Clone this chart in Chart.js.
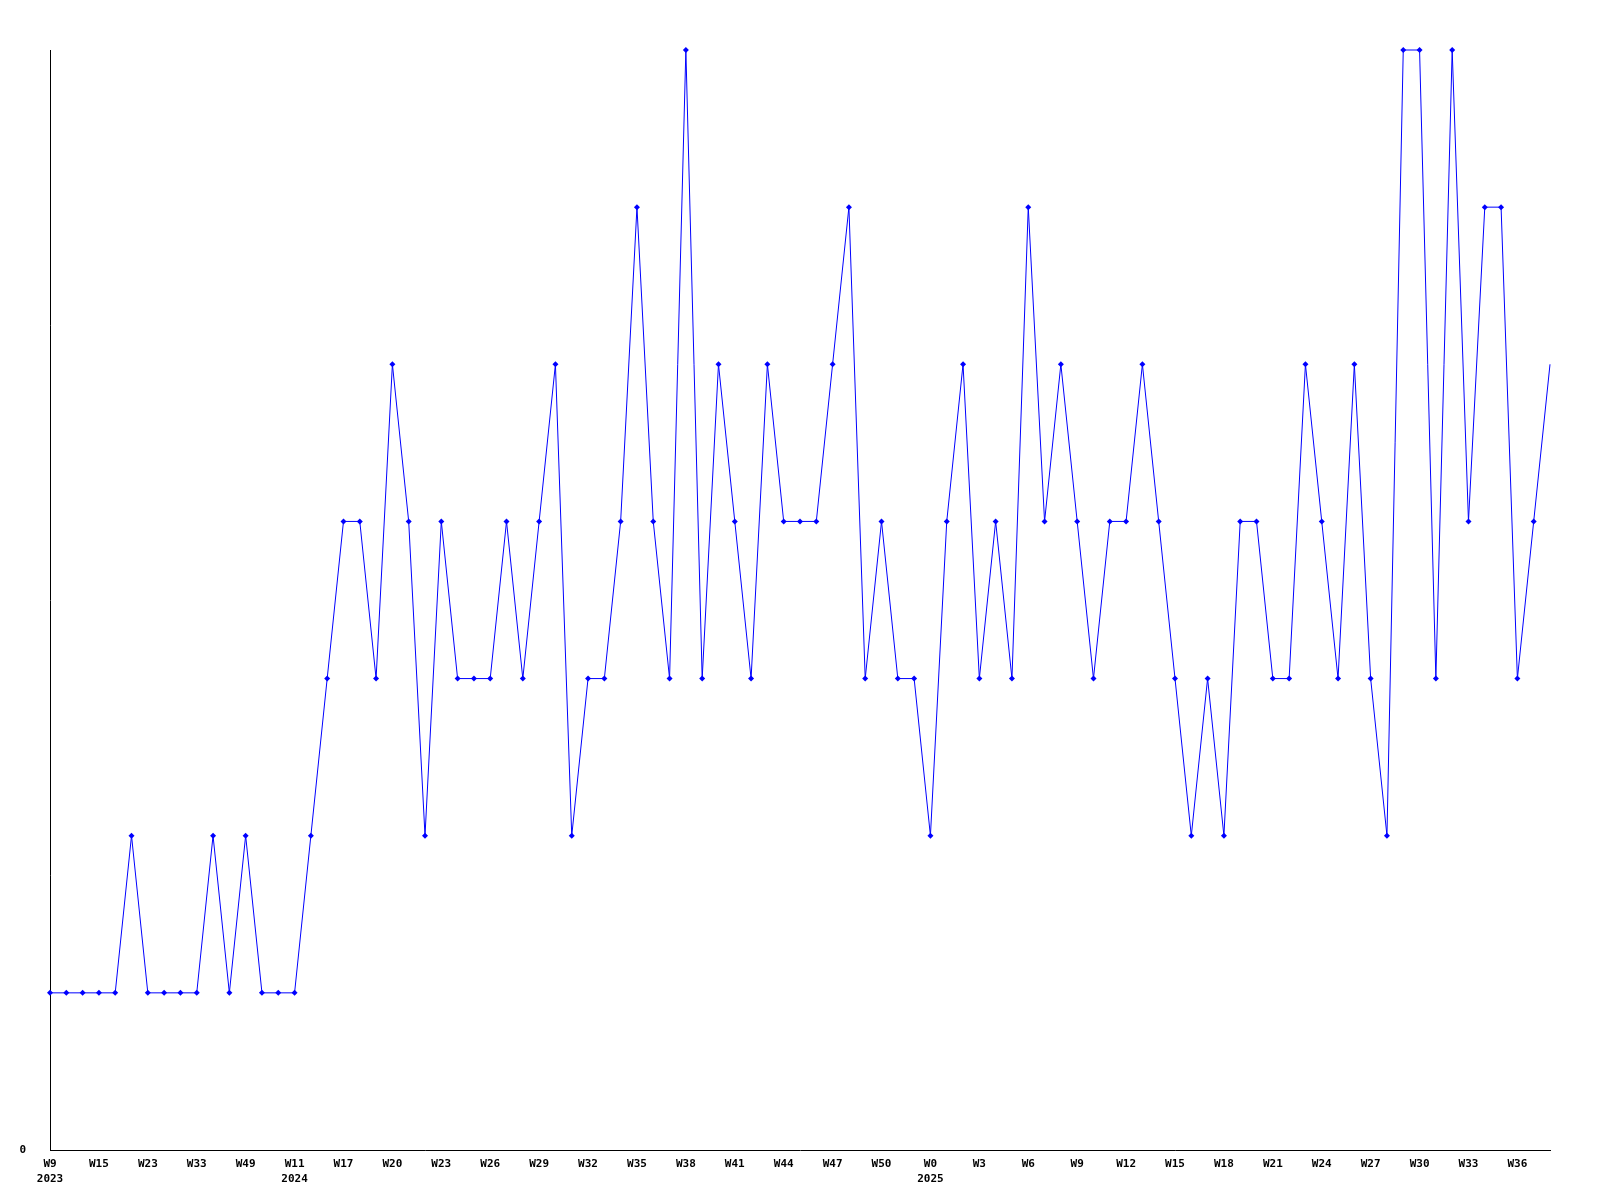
<!DOCTYPE html>
<html>
<head>
<meta charset="utf-8">
<script src="https://cdn.jsdelivr.net/npm/chart.js@4/dist/chart.umd.min.js"></script>
<style>
  html, body { margin: 0; padding: 0; background: #fff; }
  #caixa { width: 1600px; height: 1200px; }
</style>
</head>
<body>
<div id="caixa"><canvas id="cvs_grafico"></canvas></div>
<script>
// rótulos do eixo x (um a cada 3 semanas)
var semanasTick = [
  "W9", "W15", "W23", "W33", "W49", "W11", "W17", "W20", "W23", "W26", "W29",
  "W32", "W35", "W38", "W41", "W44", "W47", "W50", "W0", "W3", "W6", "W9",
  "W12", "W15", "W18", "W21", "W24", "W27", "W30", "W33", "W36",
];
var anosTick = [
  "2023", "", "", "", "", "2024", "", "", "", "", "",
  "", "", "", "", "", "", "", "2025", "", "", "",
  "", "", "", "", "", "", "", "", "",
];

// valores semanais
var valores = [
  1, 1, 1, 1, 1, 2, 1, 1, 1, 1,
  2, 1, 2, 1, 1, 1, 2, 3, 4, 4,
  3, 5, 4, 2, 4, 3, 3, 3, 4, 3,
  4, 5, 2, 3, 3, 4, 6, 4, 3, 7,
  3, 5, 4, 3, 5, 4, 4, 4, 5, 6,
  3, 4, 3, 3, 2, 4, 5, 3, 4, 3,
  6, 4, 5, 4, 3, 4, 4, 5, 4, 3,
  2, 3, 2, 4, 4, 3, 3, 5, 4, 3,
  5, 3, 2, 7, 7, 3, 7, 4, 6, 6,
  3, 4, 5,
];

var passoTick = 3;

const grafico = document.getElementById("cvs_grafico");
const fonteEixo = { family: "'DejaVu Sans Mono', monospace", size: 11, weight: "bold", lineHeight: 1.4 };

function montarRotulos() {
  var rotulos = [];
  valores.forEach((v, i) => {
    if (i % passoTick === 0 && semanasTick[i / passoTick] !== undefined) {
      rotulos.push([semanasTick[i / passoTick], anosTick[i / passoTick]]);
    } else {
      rotulos.push("");
    }
  });
  return rotulos;
}

function criarGrafico() {
  var ultimo = valores.length - 1;
  new Chart(grafico, {
    type: "line",
    data: {
      labels: montarRotulos(),
      datasets: [
        {
          data: valores,
          borderColor: "#0000ff",
          borderWidth: 1,
          backgroundColor: "#0000ff",
          pointStyle: "rectRot",
          pointBorderWidth: 0,
          pointRadius: (ctx) => (ctx.dataIndex === ultimo ? 0 : 3), // último ponto sem marcador
          tension: 0,
          clip: false,
        },
      ],
    },
    options: {
      responsive: true,
      maintainAspectRatio: false,
      animation: false,
      layout: { padding: { top: 50, right: 50, left: 0, bottom: 0 } },
      plugins: {
        legend: { display: false },
        tooltip: { enabled: false },
      },
      scales: {
        x: {
          type: "category",
          offset: false,
          grid: { display: false, drawTicks: false },
          border: { display: true, color: "#000", width: 1 },
          ticks: {
            autoSkip: false,
            maxRotation: 0,
            minRotation: 0,
            padding: 6,
            color: "#000",
            font: fonteEixo,
          },
          afterFit: (escala) => { escala.height = 50; },
        },
        y: {
          min: 0,
          max: 7,
          grid: { display: false, drawTicks: false },
          border: { display: true, color: "#000", width: 1 },
          ticks: {
            stepSize: 1,
            padding: 24,
            color: "#000",
            font: fonteEixo,
            callback: (v) => (v === 0 ? "0" : null), // só o zero aparece
          },
          afterFit: (escala) => { escala.width = 50; },
        },
      },
    },
  });
}

criarGrafico();
</script>
</body>
</html>
